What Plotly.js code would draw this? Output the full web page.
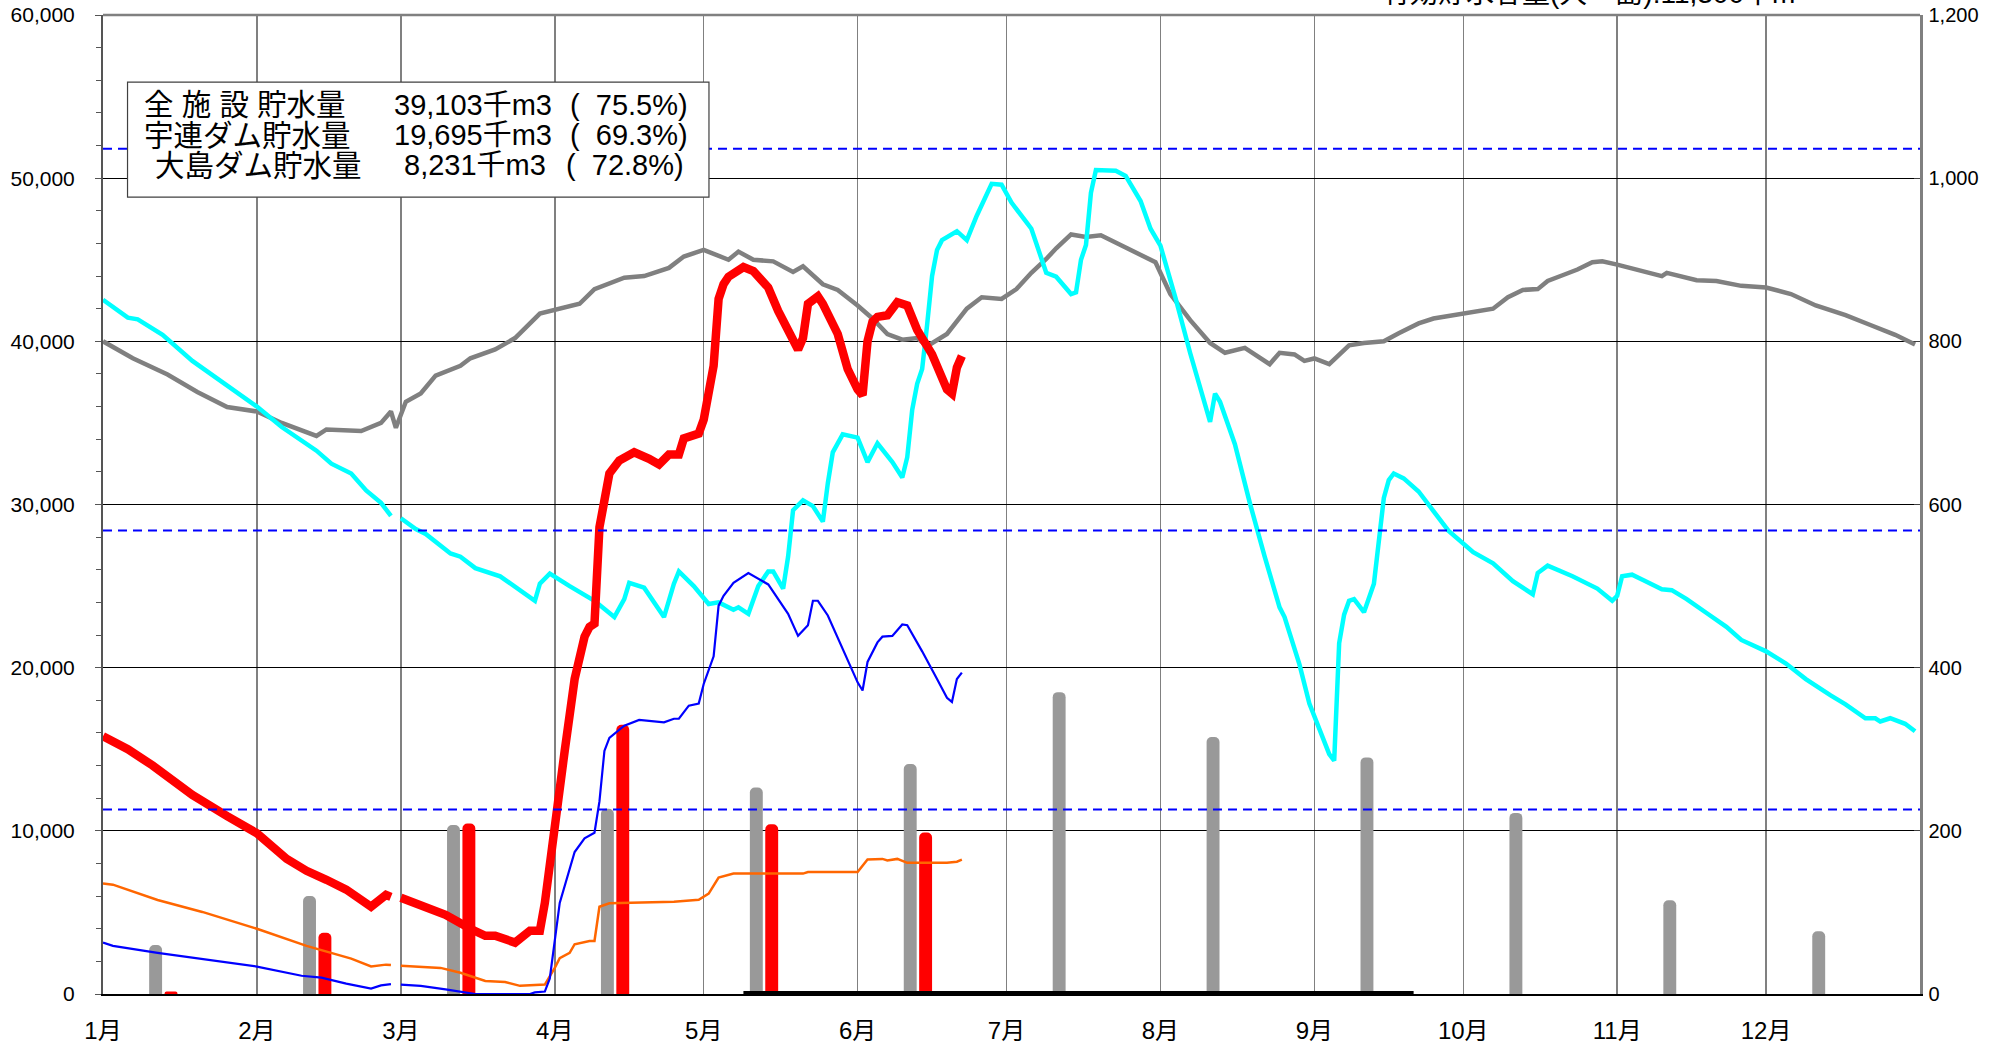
<!DOCTYPE html>
<html>
<head>
<meta charset="utf-8">
<script src="https://cdn.plot.ly/plotly-3.0.1.min.js"></script>
<style>html,body{margin:0;padding:0;background:#fff;}#chart{width:2011px;height:1049px;}</style>
</head>
<body>
<div id="chart"></div>
<script>
// ---------- DATA ----------
const YEAR = '2024-';
const monthStarts = ['01-01','02-01','03-01','04-01','05-01','06-01','07-01','08-01','09-01','10-01','11-01','12-01'];
const monthLabels = ['1月','2月','3月','4月','5月','6月','7月','8月','9月','10月','11月','12月'];

// monthly rainfall (mm, right axis)
const rainNormal = [60,120,207,227,253,282,370,315,290,222,115,77];
const rainThisYear = [3,75,209,330,208,198,null,null,null,null,null,null];

// 平年 total storage (千m3)
const avgDates = ['01-01','01-07','01-14','01-20','01-26','02-01','02-06','02-13','02-15','02-22','02-26','02-28','02-29','03-02','03-05','03-08','03-13','03-15','03-20','03-24','03-29','04-01','04-06','04-09','04-15','04-19','04-24','04-27','05-01','05-06','05-08','05-11','05-15','05-19','05-21','05-25','05-28','06-01','06-04','06-07','06-10','06-13','06-15','06-19','06-23','06-26','06-30','07-03','07-06','07-09','07-11','07-14','07-17','07-20','07-24','07-27','07-31','08-03','08-07','08-11','08-14','08-18','08-23','08-25','08-28','08-30','09-01','09-04','09-08','09-11','09-15','09-18','09-22','09-25','10-01','10-07','10-10','10-13','10-16','10-18','10-21','10-24','10-27','10-29','11-01','11-05','11-10','11-11','11-17','11-21','11-26','12-01','12-06','12-11','12-17','12-22','12-27','12-31'];
const avgVals = [40000,38960,37970,36900,35970,35700,35000,34200,34600,34500,35000,35700,34700,36300,36800,37900,38500,38960,39500,40200,41700,41900,42300,43200,43900,44000,44500,45200,45600,45000,45500,45000,44900,44250,44600,43500,43150,42200,41400,40450,40100,40200,39700,40450,42000,42700,42600,43200,44200,45050,45700,46550,46400,46500,45900,45500,44850,42900,41300,39900,39300,39600,38600,39300,39200,38800,38950,38600,39760,39900,40000,40500,41100,41400,41700,42000,42700,43150,43200,43700,44050,44400,44850,44900,44700,44400,44000,44200,43750,43700,43400,43300,42900,42200,41600,41000,40400,39800];

// 前年 total storage (千m3)
const prevDates = ['01-01','01-06','01-08','01-13','01-19','01-25','02-01','02-06','02-13','02-16','02-20','02-23','02-26','02-28','02-29','03-01','03-04','03-06','03-11','03-13','03-16','03-21','03-25','03-28','03-29','03-31','04-04','04-09','04-13','04-15','04-16','04-19','04-23','04-25','04-26','04-29','05-02','05-04','05-07','05-08','05-10','05-12','05-14','05-15','05-17','05-18','05-19','05-21','05-23','05-25','05-26','05-27','05-29','06-01','06-03','06-05','06-08','06-10','06-11','06-12','06-13','06-14','06-15','06-16','06-17','06-18','06-21','06-23','06-25','06-28','06-30','07-02','07-05','07-06','07-09','07-11','07-14','07-15','07-16','07-17','07-18','07-19','07-23','07-25','07-28','07-30','08-01','08-04','08-07','08-11','08-12','08-13','08-16','08-19','08-22','08-25','08-26','08-29','08-31','09-04','09-05','09-06','09-07','09-08','09-09','09-11','09-13','09-15','09-16','09-17','09-19','09-22','09-25','09-28','10-03','10-07','10-11','10-15','10-16','10-18','10-23','10-28','10-31','11-01','11-02','11-04','11-06','11-10','11-12','11-15','11-19','11-23','11-26','12-01','12-05','12-09','12-14','12-17','12-21','12-23','12-24','12-26','12-29','12-31'];
const prevVals = [42550,41450,41350,40400,38800,37500,36000,34750,33300,32500,31900,30860,30100,29300,null,29160,28500,28200,27000,26800,26100,25600,24700,24100,25150,25760,25000,24100,23100,24200,25200,24900,23100,25150,25900,25000,23900,24000,23550,23700,23300,25000,25900,25900,24850,26800,29650,30250,29900,28950,31300,33200,34300,34100,32600,33750,32600,31650,32900,35800,37400,38300,41000,44000,45600,46200,46750,46200,47700,49650,49600,48500,47300,46900,44200,43960,42900,43000,45000,45900,49100,50500,50450,50140,48600,46900,45860,42700,39270,35060,36800,36300,33700,30100,26800,23700,23100,20200,17800,14700,14300,21500,23250,24100,24200,23400,25150,30400,31500,31900,31600,30800,29600,28400,27080,26400,25300,24500,25800,26250,25600,24850,24100,24400,25600,25700,25400,24800,24750,24200,23350,22500,21700,21000,20250,19300,18300,17750,16900,16900,16700,16900,16560,16100];

// 今年 total storage (千m3)
const curDates = ['01-01','01-06','01-11','01-19','01-26','02-01','02-07','02-11','02-15','02-19','02-24','02-26','02-27','02-28','02-29','03-01','03-05','03-10','03-15','03-18','03-20','03-24','03-27','03-29','03-30','04-01','04-03','04-05','04-07','04-08','04-09','04-10','04-11','04-12','04-14','04-17','04-20','04-22','04-24','04-26','04-27','04-30','05-01','05-02','05-03','05-04','05-05','05-06','05-09','05-11','05-14','05-16','05-19','05-20','05-21','05-22','05-24','05-25','05-28','05-30','06-01','06-02','06-03','06-04','06-05','06-07','06-09','06-11','06-13','06-16','06-19','06-20','06-21','06-22'];
const curVals = [15800,15000,14000,12200,10900,9850,8280,7550,7000,6400,5350,5800,6070,5950,null,5900,5460,4850,4000,3570,3570,3150,3880,3880,5580,10800,14900,19300,21900,22500,22700,28600,30350,31900,32700,33200,32800,32450,33070,33070,34050,34350,35200,37000,38500,42600,43500,43960,44550,44300,43300,41860,40200,39500,40200,42300,42760,42300,40450,38300,37050,36700,40000,41200,41500,41600,42400,42200,40700,39200,37050,36800,38400,39103];

// 宇連ダム storage (千m3)
const ureDates = ['01-01','01-03','01-12','01-25','02-01','02-10','02-14','02-19','02-24','02-26','02-28','02-29','03-01','03-05','03-10','03-16','03-27','03-28','03-30','03-31','04-02','04-05','04-07','04-09','04-10','04-11','04-12','04-15','04-18','04-20','04-23','04-25','04-26','04-28','04-30','05-01','05-03','05-04','05-05','05-07','05-10','05-14','05-18','05-20','05-22','05-23','05-24','05-26','05-29','06-01','06-02','06-03','06-05','06-06','06-08','06-10','06-11','06-14','06-17','06-19','06-20','06-21','06-22'];
const ureVals = [3150,2950,2520,1990,1680,1120,1000,640,330,530,600,null,580,500,280,0,0,100,150,950,5580,8700,9540,9880,11800,14900,15700,16440,16800,16750,16650,16870,16870,17670,17800,19000,20700,23800,24400,25200,25800,25100,23300,21950,22600,24100,24100,23200,21200,19100,18600,20350,21550,21900,21950,22650,22600,21000,19300,18150,17900,19300,19695];

// 大島ダム storage (千m3)
const oshimaDates = ['01-01','01-03','01-12','01-21','02-01','02-11','02-20','02-24','02-27','02-28','02-29','03-01','03-09','03-13','03-18','03-22','03-25','03-30','04-01','04-02','04-04','04-05','04-08','04-09','04-10','04-12','04-18','04-25','04-30','05-02','05-04','05-07','05-21','05-22','06-01','06-03','06-06','06-07','06-09','06-11','06-19','06-21','06-22'];
const oshimaVals = [6770,6700,5760,5030,4000,2950,2170,1690,1800,1780,null,1730,1600,1300,800,740,500,580,1600,2200,2520,3050,3250,3250,5350,5560,5620,5660,5770,6150,7130,7380,7380,7480,7480,8240,8280,8180,8280,8040,8040,8110,8231];

// 節水期間 (black band at 0)
const savingDates = ['05-09','09-21'];
const savingVals = [0,0];

// reference capacity lines (千m3)
const capacityLines = [51800, 28400, 11300];

// info box text
const infoLabels = ['全 施 設 貯水量','宇連ダム貯水量','大島ダム貯水量'];
const infoValues = ['39,103千m3','19,695千m3','8,231千m3'];
const infoPercents = ['(  75.5%)','(  69.3%)','(  72.8%)'];
const topTitle = '有効貯水容量(大　島):11,300千m³';

// ---------- CHART ----------
const d = s => YEAR + s;
const DAY = 86400000;
const FONT = 'Liberation Sans, Arial, Noto Sans CJK JP, sans-serif';

function line(dates, vals, color, width){
  return {type:'scatter', mode:'lines', x:dates.map(d), y:vals, yaxis:'y2',
    line:{color:color, width:width, shape:'linear'}, connectgaps:false, hoverinfo:'skip'};
}

const traces = [
  {type:'bar', x:monthStarts.map(d), y:rainNormal, yaxis:'y', width:2.6*DAY, offset:9.3*DAY,
   marker:{color:'#999999', cornerradius:5}, hoverinfo:'skip'},
  {type:'bar', x:monthStarts.map(d), y:rainThisYear, yaxis:'y', width:2.6*DAY, offset:12.4*DAY,
   marker:{color:'#ff0000', cornerradius:5}, hoverinfo:'skip'},
  line(avgDates, avgVals, '#808080', 4.5),
  line(prevDates, prevVals, '#00ffff', 4.5),
  line(oshimaDates, oshimaVals, '#ff6600', 2.5),
  line(ureDates, ureVals, '#0000ff', 2.2),
  line(curDates, curVals, '#ff0000', 8.5),
  line(savingDates, savingVals, '#000000', 6)
];

const shapes = capacityLines.map(v => ({type:'line', xref:'paper', yref:'y2', x0:0, x1:1, y0:v, y1:v,
  line:{color:'#0000ff', width:2, dash:'9px,6px'}, layer:'above'}));
// info box (covers dashed line)
shapes.push({type:'rect', xref:'paper', yref:'paper', x0:0.0135, x1:0.3335, y0:0.8139, y1:0.9315,
  fillcolor:'#ffffff', line:{color:'#404040', width:1.2}, layer:'above'});
// top frame line
shapes.push({type:'line', xref:'paper', yref:'paper', x0:0, x1:1, y0:1, y1:1,
  line:{color:'#808080', width:2.5}, layer:'above'});

const rowsY = [0.9085, 0.8773, 0.8466];
const labelX = [0.0215, 0.0215, 0.0275];
const valueX = [0.1590, 0.1590, 0.1645];
const pctX = [0.2560, 0.2560, 0.2535];
const annotations = [];
for (let i = 0; i < 3; i++) {
  const f = {family:FONT, size:29, color:'#000'};
  annotations.push({xref:'paper', yref:'paper', x:labelX[i], y:rowsY[i], xanchor:'left', yanchor:'middle', text:infoLabels[i], showarrow:false, font:{family:FONT, size:29.5, color:'#000'}});
  annotations.push({xref:'paper', yref:'paper', x:valueX[i], y:rowsY[i], xanchor:'left', yanchor:'middle', text:infoValues[i], showarrow:false, font:f});
  annotations.push({xref:'paper', yref:'paper', x:pctX[i], y:rowsY[i], xanchor:'left', yanchor:'middle', text:infoPercents[i], showarrow:false, font:f});
}
annotations.push({xref:'paper', yref:'paper', x:0.8203, y:1, xanchor:'center', yanchor:'bottom', yshift:4,
  text:topTitle, showarrow:false, font:{family:FONT, size:28, color:'#000'}});

const layout = {
  width:2011, height:1049,
  margin:{l:103, r:91, t:15, b:55, pad:0},
  paper_bgcolor:'#ffffff', plot_bgcolor:'#ffffff',
  showlegend:false, barmode:'overlay',
  font:{family:FONT, color:'#000'},
  xaxis:{type:'date', range:[d('01-01'), '2025-01-01'],
    tickvals:monthStarts.map(d), ticktext:monthLabels,
    showgrid:true, gridcolor:'#808080', gridwidth:1.5,
    showline:true, linecolor:'#000000', linewidth:2,
    ticks:'', ticklabelstandoff:14,
    tickfont:{family:FONT, size:24, color:'#000'}, zeroline:false, fixedrange:true},
  yaxis:{range:[0,1200], dtick:200, tick0:0, side:'right',
    showgrid:true, gridcolor:'#000000', gridwidth:1,
    showline:true, linecolor:'#808080', linewidth:2.5,
    ticks:'inside', ticklen:6, tickcolor:'#404040', ticklabelstandoff:2,
    tickformat:',d', tickfont:{family:FONT, size:20, color:'#000'}, zeroline:false},
  yaxis2:{range:[0,60000], dtick:10000, tick0:0, side:'left', overlaying:'y',
    showgrid:false, showline:true, linecolor:'#555555', linewidth:2,
    ticks:'outside', ticklen:6, tickcolor:'#555555', ticklabelstandoff:16,
    minor:{ticks:'outside', dtick:2000, ticklen:5, tickcolor:'#555555', showgrid:false},
    tickformat:',d', tickfont:{family:FONT, size:21, color:'#000'}, zeroline:false},
  shapes:shapes,
  annotations:annotations
};

Plotly.newPlot('chart', traces, layout, {staticPlot:true, displayModeBar:false});
</script>
</body>
</html>
